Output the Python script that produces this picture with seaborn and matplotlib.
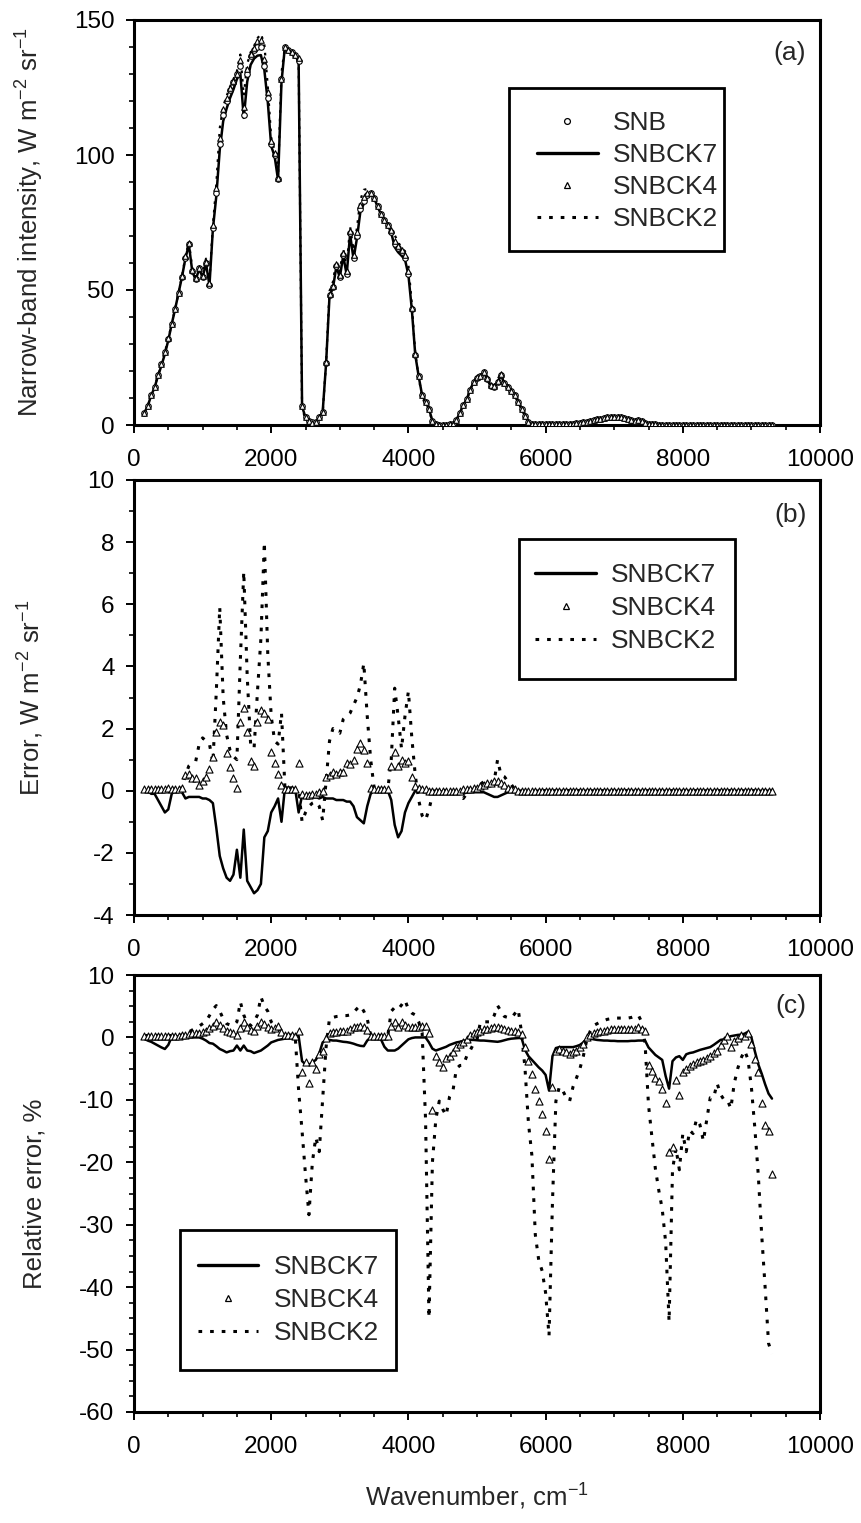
import numpy as np
import matplotlib
matplotlib.use("Agg")
import matplotlib.pyplot as plt
import seaborn as sns
from matplotlib.lines import Line2D
from matplotlib.patches import Rectangle
from matplotlib.ticker import MultipleLocator

# ---------------- data (narrow bands, 50 cm-1 spacing) ----------------
wavenumber = np.arange(150, 9301, 50)

# (a) SNB narrow-band intensity, W m-2 sr-1
snb = [
    4.5, 7, 11, 14, 18.5, 22.5, 27, 32, 37.5, 43,
    49, 55, 62, 67, 57, 54, 58, 55, 60, 52,
    73, 86, 104, 115, 120, 124, 127, 130, 133, 115,
    130, 136.5, 139, 140, 140, 133, 121, 104, 100, 91,
    128, 140, 139, 138, 137, 135, 7, 3, 1.5, 1,
    1.2, 3, 5, 23, 48, 51, 59, 55, 63, 56,
    71, 62, 70, 80, 83, 85, 86, 84, 81, 78,
    76, 74, 71.5, 67, 65.5, 64, 62, 56, 43, 26,
    18, 11, 8.5, 6, 1.5, 0.2, 0.1, 0.1, 0.1, 0.2,
    0.5, 2, 4.5, 7.5, 9.5, 13, 16, 17.5, 18, 19.5,
    17, 14.5, 14, 16, 18.5, 15.5, 14, 12.5, 11, 8.5,
    6, 3.5, 1.2, 0.5, 0.3, 0.2, 0.2, 0.2, 0.2, 0.2,
    0.2, 0.3, 0.3, 0.3, 0.4, 0.5, 0.6, 0.8, 1.0, 1.2,
    1.5, 1.8, 2.1, 2.4, 2.6, 2.8, 3.0, 3.1, 3.0, 2.8,
    2.5, 2.2, 1.8, 1.5, 2.0, 1.6, 0.8, 0.3, 0.2, 0.2,
    0.1, 0.1, 0.1, 0.1, 0.1, 0.1, 0.1, 0.1, 0.1, 0.1,
    0.1, 0.1, 0.1, 0.1, 0.1, 0.1, 0.1, 0.1, 0.1, 0.1,
    0.1, 0.1, 0.1, 0.1, 0.1, 0.1, 0.1, 0.1, 0.1, 0.1,
    0.1, 0.1, 0.1, 0.1,
]

# (b) error, W m-2 sr-1
err_snbck7 = [
    0, 0, -0.1, -0.1, -0.3, -0.5, -0.7, -0.6, -0.1, 0,
    0, -0.05, -0.25, -0.2, -0.2, -0.2, -0.2, -0.25, -0.25, -0.3,
    -0.4, -1.2, -2.1, -2.5, -2.8, -2.9, -2.7, -1.9, -2.8, -1.25,
    -2.9, -3.1, -3.3, -3.2, -3.0, -1.5, -1.3, -0.7, -0.5, -0.25,
    -1.0, 0.1, 0.1, 0.1, 0.05, -0.7, -0.15, -0.2, -0.2, -0.2,
    -0.2, -0.25, -0.2, -0.25, -0.25, -0.25, -0.3, -0.3, -0.3, -0.35,
    -0.35, -0.5, -0.85, -0.95, -1.05, -0.5, -0.1, 0, 0, 0,
    0, 0, -0.3, -1.1, -1.5, -1.3, -0.7, -0.4, -0.2, 0,
    0, 0, 0, -0.05, 0, 0, 0, -0.05, -0.05, -0.05,
    -0.05, -0.05, -0.1, -0.1, -0.05, -0.05, -0.05, -0.05, -0.05, -0.05,
    -0.1, -0.15, -0.2, -0.2, -0.15, -0.1, -0.05, -0.05, 0, 0,
    0, -0.05, -0.05, -0.05, 0, 0, 0, 0, 0, 0,
    0, 0, 0, 0, 0, 0, 0, 0, 0, 0,
    0, 0, 0, 0, 0, 0, 0, 0, 0, 0,
    0, 0, 0, 0, 0, 0, 0, 0, 0, 0,
    0, 0, 0, 0, 0, 0, 0, 0, 0, 0,
    0, 0, 0, 0, 0, 0, 0, 0, 0, 0,
    0, 0, 0, 0, 0, 0, 0, 0, 0, 0,
    0, 0, 0, 0,
]

err_snbck4 = [
    0.05, 0.05, 0.05, 0.05, 0.05, 0.05, 0.05, 0.1, 0.05, 0.05,
    0.05, 0.1, 0.5, 0.55, 0.4, 0.4, 0.2, 0.3, 0.45, 0.7,
    1.1, 1.9, 2.2, 2.1, 1.2, 0.75, 0.4, 0.1, 2.2, 2.65,
    1.9, 0.95, 0.8, 2.2, 2.6, 2.5, 2.3, 1.25, 0.9, 0.55,
    0.2, 0.05, 0.05, 0.05, 0.05, 0.9, -0.1, -0.15, -0.15, -0.1,
    -0.1, -0.05, 0.0, 0.45, 0.5, 0.6, 0.55, 0.6, 0.6, 0.9,
    0.85, 1.0, 1.35, 1.55, 1.3, 0.9, 0.1, 0.05, 0.05, 0.05,
    0.05, 0.05, 0.8, 1.25, 0.8, 1.0, 0.9, 0.95, 0.45, 0.15,
    0.1, 0.05, 0.05, 0, 0, 0, 0, 0, 0, 0,
    0, 0, 0, 0.05, 0.05, 0.05, 0.1, 0.1, 0.15, 0.2,
    0.25, 0.25, 0.3, 0.3, 0.25, 0.2, 0.1, 0.05, 0.05, 0,
    0, 0, 0, 0, 0, 0, 0, 0, 0, 0,
    0, 0, 0, 0, 0, 0, 0, 0, 0, 0,
    0, 0, 0, 0, 0, 0, 0, 0, 0, 0,
    0, 0, 0, 0, 0, 0, 0, 0, 0, 0,
    0, 0, 0, 0, 0, 0, 0, 0, 0, 0,
    0, 0, 0, 0, 0, 0, 0, 0, 0, 0,
    0, 0, 0, 0, 0, 0, 0, 0, 0, 0,
    0, 0, 0, 0,
]

err_snbck2 = [
    0, 0, 0, 0, 0, 0, 0, 0, 0.05, 0.05,
    0.05, 0.1, 0.5, 0.8, 0.9, 0.95, 1.5, 1.7, 1.6, 1.5,
    0.9, 3.2, 5.9, 3.0, 1.8, 1.3, 1.1, 1.0, 4.2, 7.05,
    3.7, 1.5, 1.35, 3.2, 4.9, 8.0, 4.4, 2.4, 1.6, 1.5,
    2.5, 0.1, 0.05, 0.05, 0.05, 0.05, -1.0, -0.7, -0.5, -0.4,
    -0.35, -0.5, -0.95, 0.3, 1.6, 2.0, 1.9, 1.85, 2.3, 2.4,
    2.5, 2.75, 3.0, 3.4, 4.1, 2.4, 1.0, 0.1, 0.05, 0.05,
    0.05, 0.05, 1.0, 3.3, 2.4, 1.35, 2.4, 3.2, 1.7, 0.5,
    -0.3, -0.8, -0.95, -0.6, -0.15, 0, 0, 0, 0, 0,
    0, -0.05, -0.15, -0.25, -0.1, 0, 0.05, 0.1, 0.2, 0.3,
    0.2, 0.2, 0.3, 1.0, 0.5, 0.45, 0.3, 0.2, 0.05, 0,
    0, -0.05, -0.05, -0.1, -0.1, -0.05, 0, 0, 0, 0,
    0, 0, 0, 0, 0, 0, 0, 0, 0, 0,
    0, 0, 0, 0, 0, 0, 0, 0, 0, 0,
    0, 0, 0, 0, 0, 0, 0, 0, 0, 0,
    0, 0, 0, 0, 0, 0, 0, 0, 0, 0,
    0, 0, 0, 0, 0, 0, 0, 0, 0, 0,
    0, 0, 0, 0, 0, 0, 0, 0, 0, 0,
    0, 0, 0, 0,
]

# (c) relative error, %
rel_snbck7 = [
    -0.2, -0.5, -0.7, -1.0, -1.3, -1.6, -1.85, -1.2, 0.1, 0.2,
    0.1, 0, 0, 0, 0, 0, 0, -0.2, -0.5, -0.9,
    -1.0, -1.4, -1.85, -2.1, -2.4, -2.2, -2.1, -1.3, -2.1, -1.3,
    -2.1, -2.2, -2.5, -2.3, -2.1, -1.7, -1.3, -0.8, -0.6, -0.4,
    -0.3, -0.2, -0.1, 0, 0.2, 0.2, -3.8, -4.3, -4.4, -4.0,
    -3.6, -2.6, -0.8, -0.4, -0.4, -0.5, -0.5, -0.6, -0.7, -0.75,
    -0.85, -1.0, -1.2, -1.35, -1.4, -0.5, 0, 0, 0, -0.3,
    -1.5, -2.1, -2.1, -2.1, -1.8, -1.3, -0.8, -0.3, -0.1, 0,
    0, 0, 0, -0.8, -1.8, -2.1, -1.9, -1.7, -1.5, -1.2,
    -1.0, -0.8, -0.7, -0.55, -0.45, -0.4, -0.4, -0.45, -0.5, -0.5,
    -0.55, -0.6, -0.65, -0.7, -0.6, -0.45, -0.3, -0.2, -0.15, -0.1,
    -0.1, -2.0, -3.0, -3.6, -4.2, -4.8, -5.3, -6.0, -8.5, -3.0,
    -1.7, -1.55, -1.55, -1.55, -1.55, -1.55, -1.4, -1.2, -0.8, -0.2,
    -0.2, -0.3, -0.4, -0.45, -0.5, -0.5, -0.55, -0.55, -0.6, -0.6,
    -0.6, -0.6, -0.55, -0.55, -0.5, -0.5, -0.5, -1.6, -2.2, -2.8,
    -3.2, -3.6, -6.2, -8.2, -3.8, -3.2, -3.0, -3.6, -2.7, -2.5,
    -2.4, -2.2, -2.0, -1.85, -1.7, -1.55, -1.2, -0.8, -0.4, -0.3,
    0.0, 0.2, 0.3, 0.4, 0.45, 0.6, 0.9, 0.0, -2.2, -4.3,
    -5.8, -7.5, -9.0, -9.8,
]

rel_snbck4 = [
    0.3, 0.3, 0.3, 0.3, 0.3, 0.3, 0.3, 0.3, 0.3, 0.3,
    0.3, 0.4, 0.45, 0.5, 0.75, 0.7, 0.75, 0.8, 1.0, 1.5,
    1.9, 2.5, 2.0, 1.5, 1.0, 0.8, 0.7, 0.45, 1.5, 2.5,
    1.6, 1.2, 1.0, 1.9, 2.5, 2.2, 1.6, 1.3, 1.5, 1.9,
    0.8, 0.45, 0.4, 0.35, 0.3, 1.0, -5.6, -4.0, -7.35, -3.9,
    -5.0, -2.7, -2.1, -0.1, 0.75, 0.8, 0.9, 1.0, 1.0, 1.1,
    1.3, 1.6, 1.75, 1.9, 1.7, 1.2, 0.3, 0.3, 0.3, 0.3,
    0.3, 0.3, 1.9, 2.5, 1.6, 2.5, 2.0, 1.6, 1.6, 1.6,
    1.6, 1.9, 1.9, 0.75, -11.7, -3.0, -3.9, -4.75, -3.3, -2.9,
    -2.4, -1.55, -1.0, -0.7, -0.2, 0.45, 0.7, 0.9, 1.1, 1.3,
    1.4, 1.5, 1.6, 1.6, 1.5, 1.3, 1.2, 1.1, 1.0, 0.8,
    0.6, -1.5, -3.8, -5.8, -8.3, -10.2, -12.2, -15.0, -19.5, -8.0,
    -2.1, -1.85, -2.1, -2.4, -2.7, -2.4, -2.1, -1.5, -1.0, 0.0,
    0.45, 0.7, 0.9, 1.0, 1.1, 1.2, 1.3, 1.3, 1.3, 1.3,
    1.3, 1.3, 1.3, 1.4, 1.6, 1.3, 1.0, -4.45, -5.3, -6.5,
    -7.0, -8.2, -10.5, -18.3, -17.5, -6.8, -9.3, -5.5, -5.0, -4.6,
    -4.2, -3.9, -3.7, -3.6, -3.3, -3.0, -2.5, -2.1, -1.2, -0.4,
    0.2, -1.55, -0.5, -0.1, 0.45, 0.2, 0.75, -1.0, -3.5, -5.5,
    -10.5, -14.0, -15.0, -21.8,
]

rel_snbck2 = [
    0.3, 0.3, 0.3, 0.3, 0.3, 0.3, 0.3, 0.3, 0.3, 0.3,
    0.3, 0.4, 0.6, 0.9, 1.2, 1.5, 1.8, 2.2, 2.6, 3.5,
    4.5, 5.1, 4.2, 3.0, 2.2, 2.0, 1.9, 2.5, 5.7, 3.6,
    2.2, 1.9, 2.5, 3.6, 6.5, 5.0, 4.2, 2.5, 1.8, 1.4,
    1.2, 0.8, 0.5, 0.3, 0.2, -8.5, -15.0, -22.0, -28.4, -20.0,
    -16.0, -18.3, -10.0, -1.55, 3.1, 3.2, 3.35, 3.4, 3.5, 3.5,
    3.6, 4.0, 4.6, 5.1, 4.2, 3.0, 0.3, 0.3, 0.3, 0.3,
    0.3, 0.3, 4.2, 4.8, 4.5, 5.2, 6.0, 4.5, 3.9, 3.6,
    2.5, 0.75, -13.1, -44.9, -20.0, -13.1, -10.2, -11.5, -12.5, -9.5,
    -8.5, -5.0, -4.5, -4.45, -3.0, -2.1, -1.0, -0.4, 2.5, 2.5,
    2.5, 2.5, 3.5, 5.1, 4.2, 3.35, 3.2, 3.1, 3.8, 4.5,
    0.75, -5.0, -13.7, -18.9, -31.6, -35.7, -37.4, -40.9, -47.8, -26.4,
    -10.2, -7.9, -8.5, -9.65, -10.2, -7.9, -6.5, -5.0, -3.0, -0.4,
    1.0, 1.9, 2.2, 2.5, 2.7, 2.9, 3.0, 3.1, 3.1, 3.1,
    3.1, 3.1, 3.2, 3.4, 3.6, 2.5, -1.0, -10.8, -16.0, -21.0,
    -24.5, -27.5, -32.8, -45.5, -21.2, -17.75, -21.2, -15.4, -18.3, -14.9,
    -15.4, -13.1, -14.0, -16.6, -13.1, -9.65, -9.65, -7.35, -9.1, -10.0,
    -10.0, -11.4, -7.35, -5.0, -3.3, -2.1, -3.5, -8.0, -14.5, -22.0,
    -31.6, -40.0, -49.0, -50.7,
]

x_ticks = [0, 2000, 4000, 6000, 8000, 10000]
series_labels = ["SNB", "SNBCK7", "SNBCK4", "SNBCK2"]
panel_labels = ["(a)", "(b)", "(c)"]
y_labels = ["Narrow-band intensity, W m$^{-2}$ sr$^{-1}$",
            "Error, W m$^{-2}$ sr$^{-1}$",
            "Relative error, %"]
x_label = "Wavenumber, cm$^{-1}$"

# ---------------- style ----------------
sns.set_style("ticks")
plt.rcParams["font.family"] = ["Liberation Sans", "DejaVu Sans"]
plt.rcParams["mathtext.fontset"] = "custom"
plt.rcParams["mathtext.rm"] = "Liberation Sans"
plt.rcParams["mathtext.it"] = "Liberation Sans:italic"
plt.rcParams["mathtext.bf"] = "Liberation Sans:bold"
plt.rcParams["axes.unicode_minus"] = False

FS = 17.5      # tick labels
FS_LAB = 18.5  # axis labels
FS_LEG = 19    # legend / panel labels
DOT = (0, (1.2, 2.6))

wn = np.asarray(wavenumber, dtype=float)
snb_a = np.asarray(snb, dtype=float)
ck7_a = snb_a + np.asarray(err_snbck7)
ck4_a = snb_a + np.asarray(err_snbck4)
ck2_a = snb_a + np.asarray(err_snbck2)

fig = plt.figure(figsize=(8.62, 15.23), dpi=100)
W, H = 862.0, 1523.0
left = 134 / W
width = 686 / W
ax_a = fig.add_axes([left, 1 - 425 / H, width, 405 / H])
ax_b = fig.add_axes([left, 1 - 915 / H, width, 435 / H])
ax_c = fig.add_axes([left, 1 - 1412 / H, width, 437 / H])


def line(ax, y, ls="-", lw=1.8, z=2):
    sns.lineplot(x=wn, y=y, ax=ax, color="black", linewidth=lw, linestyle=ls,
                 estimator=None, errorbar=None, sort=False, zorder=z)


def pts(ax, y, marker, s, z=3):
    sns.scatterplot(x=wn, y=y, ax=ax, marker=marker, s=s, color="white",
                    edgecolor="black", linewidth=0.8, zorder=z)


# (a)
line(ax_a, ck2_a, ls=DOT, lw=1.6, z=2)
line(ax_a, ck7_a, lw=1.8, z=2)
pts(ax_a, snb_a, "o", 16, z=3)
pts(ax_a, ck4_a, "^", 16, z=4)

# (b)
line(ax_b, err_snbck2, ls=DOT, lw=2.2, z=2)
line(ax_b, err_snbck7, lw=1.8, z=3)
pts(ax_b, err_snbck4, "^", 26, z=4)

# (c)
line(ax_c, rel_snbck2, ls=DOT, lw=2.2, z=2)
line(ax_c, rel_snbck7, lw=1.8, z=3)
pts(ax_c, rel_snbck4, "^", 26, z=4)


def style(ax, ylim, ymaj, ymin, ylabel, plabel, plabel_y):
    ax.set_xlim(0, 10000)
    ax.set_ylim(*ylim)
    ax.set_xticks(x_ticks)
    ax.xaxis.set_minor_locator(MultipleLocator(500))
    ax.yaxis.set_major_locator(MultipleLocator(ymaj))
    ax.yaxis.set_minor_locator(MultipleLocator(ymin))
    ax.tick_params(which="major", direction="out", length=6, width=1.4,
                   labelsize=FS, color="black", labelcolor="black")
    ax.tick_params(which="minor", direction="out", length=3.5, width=1.2,
                   color="black")
    ax.tick_params(axis="x", which="major", pad=11)
    ax.tick_params(axis="y", which="major", pad=8)
    for sp in ax.spines.values():
        sp.set_visible(True)
        sp.set_linewidth(2.2)
        sp.set_color("black")
    ax.set_xlabel("")
    ax.set_ylabel(ylabel, fontsize=FS_LAB)
    ax.yaxis.set_label_coords(-0.128, 0.5)
    ax.text(0.98, plabel_y, plabel, transform=ax.transAxes, ha="right",
            va="center", fontsize=FS_LEG)
    ax.set_facecolor("white")


style(ax_a, (0, 150), 50, 10, y_labels[0], panel_labels[0], 0.918)
style(ax_b, (-4, 10), 2, 1, y_labels[1], panel_labels[1], 0.92)
style(ax_c, (-60, 10), 10, 2.5, y_labels[2], panel_labels[2], 0.929)

ax_c.set_xlabel(x_label, fontsize=FS_LAB)
ax_c.xaxis.set_label_coords(0.5, -0.16)

# legends
h_snb = Line2D([], [], ls="none", marker="o", ms=4.2, mfc="white", mec="black", mew=0.9)
h_7 = Line2D([], [], color="black", lw=2.4)
h_4 = Line2D([], [], ls="none", marker="^", ms=4.6, mfc="white", mec="black", mew=0.9)
h_2 = Line2D([], [], color="black", lw=2.2, ls=DOT)


def legend(ax, handles, labels, box, anchor, spacing):
    x0, y0, x1, y1 = box
    ax.add_patch(Rectangle((x0, y0), x1 - x0, y1 - y0, transform=ax.transAxes,
                           facecolor="white", edgecolor="black", linewidth=2.0,
                           zorder=5, clip_on=False))
    leg = ax.legend(handles, labels, loc="center left", bbox_to_anchor=anchor,
                    borderaxespad=0, borderpad=0, frameon=False,
                    fontsize=FS_LEG, handlelength=2.3, handletextpad=0.57,
                    labelspacing=spacing, numpoints=1, scatterpoints=1)
    leg.set_zorder(6)
    return leg


legend(ax_a, [h_snb, h_7, h_4, h_2], series_labels,
       (0.547, 0.430, 0.860, 0.832), (0.5875, 0.627), 0.31)
legend(ax_b, [h_7, h_4, h_2], series_labels[1:],
       (0.561, 0.543, 0.876, 0.864), (0.585, 0.706), 0.34)
legend(ax_c, [h_7, h_4, h_2], series_labels[1:],
       (0.067, 0.096, 0.382, 0.416), (0.093, 0.256), 0.34)

fig.savefig("out.png", dpi=100, facecolor="white")
